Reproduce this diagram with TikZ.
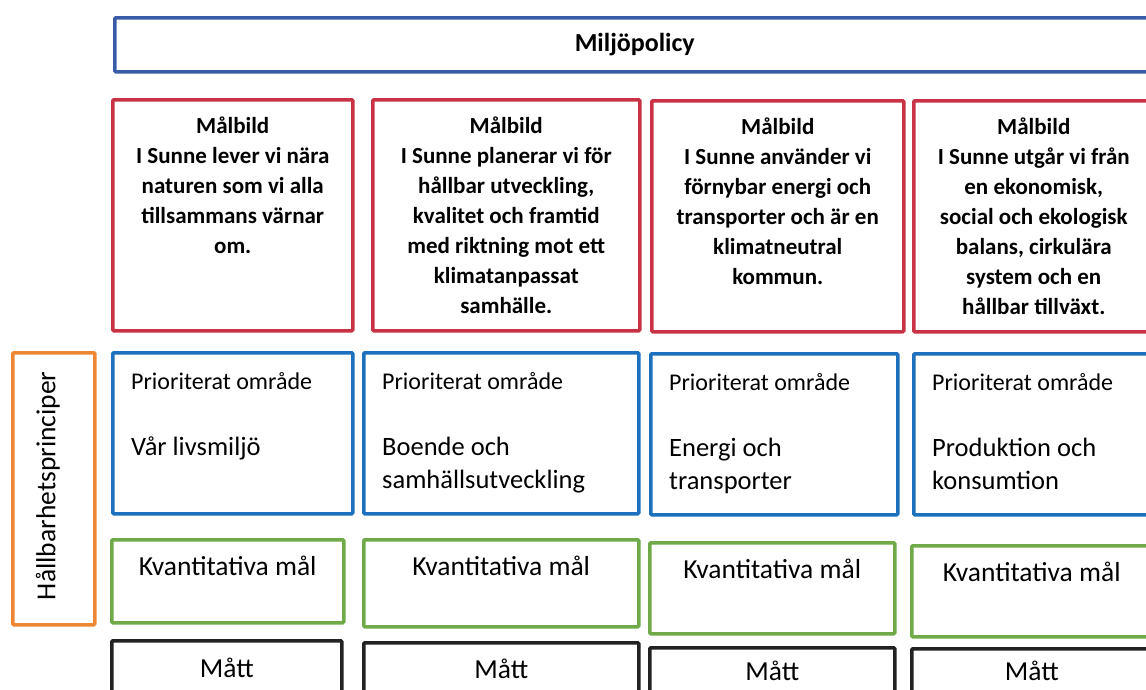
\documentclass[tikz,border=0pt]{standalone}
\usepackage{fontspec}
\setmainfont{Carlito}
\usetikzlibrary{positioning}
\definecolor{policyblue}{RGB}{58,92,168}
\definecolor{malred}{RGB}{200,50,68}
\definecolor{areablue}{RGB}{28,112,190}
\definecolor{goalgreen}{RGB}{112,170,72}
\definecolor{principorange}{RGB}{238,135,52}
\definecolor{measureblack}{RGB}{34,34,34}
\tikzset{
  box/.style={rectangle, draw, line width=3.5pt, rounded corners=1pt, inner sep=0pt, anchor=north west},
  policybox/.style={box, draw=policyblue},
  malbox/.style={box, draw=malred, minimum height=231},
  areabox/.style={box, draw=areablue, minimum height=161},
  goalbox/.style={box, draw=goalgreen},
  measurebox/.style={box, draw=measureblack, minimum height=70},
  principbox/.style={box, draw=principorange},
  maltext/.style={align=center, inner sep=0pt, font=\bfseries\fontsize{23}{30}\selectfont},
  areahead/.style={inner sep=0pt, font=\fontsize{24}{28}\selectfont},
  areaname/.style={align=left, inner sep=0pt, font=\fontsize{26.5}{33}\selectfont},
  plaintext/.style={inner sep=0pt, font=\fontsize{27.5}{30}\selectfont}
}
\begin{document}
\begin{tikzpicture}[x=1pt,y=-1pt]
\useasboundingbox (0,0) rectangle (1146,689);
\clip (0,0) rectangle (1146,689);
\node[policybox, minimum width=1040, minimum height=54] (policy) at (113,16) {};
\node[inner sep=0pt, font=\bfseries\fontsize{26}{30}\selectfont] (policytext) at (policy.center) {Miljöpolicy};
\foreach \i/\x/\y/\w/\txt in {
  1/111/98/240/{I Sunne lever vi nära\\naturen som vi alla\\tillsammans värnar\\om.},
  2/371/98/267/{I Sunne planerar vi för\\hållbar utveckling,\\kvalitet och framtid\\med riktning mot ett\\klimatanpassat\\samhälle.},
  3/650/99/252/{I Sunne använder vi\\förnybar energi och\\transporter och är en\\klimatneutral\\kommun.},
  4/912/99/240/{I Sunne utgår vi från\\en ekonomisk,\\social och ekologisk\\balans, cirkulära\\system och en\\hållbar tillväxt.}}{
  \node[malbox, minimum width=\w] (mb\i) at (\x,\y) {};
  \node[maltext, below=19pt of mb\i.north] (mbt\i) {Målbild\\\txt};
}
\foreach \i/\x/\y/\w/\txt in {
  1/111/351/240/{Vår livsmiljö},
  2/362/351/275/{Boende och\\samhällsutveckling},
  3/649/352/247/{Energi och\\transporter},
  4/912/352/240/{Produktion och\\konsumtion}}{
  \node[areabox, minimum width=\w] (pa\i) at (\x,\y) {};
  \node[areahead, anchor=base west] (pah\i) at ([shift={(20,38)}]pa\i.north west) {Prioriterat område};
  \node[areaname, anchor=north west] (pan\i) at ([shift={(20,86)}]pa\i.north west) {\txt};
}
\foreach \i/\x/\y/\w/\h in {1/110/538/232/83, 2/362/538/275/87, 3/648/541/245/91, 4/910/544/240/91}{
  \node[goalbox, minimum width=\w, minimum height=\h] (km\i) at (\x,\y) {};
  \node[plaintext, anchor=base] (kmt\i) at ([yshift=-37]km\i.north) {Kvantitativa mål};
}
\foreach \i/\x/\y/\w/\b in {1/110/639/230/38, 2/362/641/275/37, 3/648/646/245/34, 4/910/647/240/33}{
  \node[measurebox, minimum width=\w] (ma\i) at (\x,\y) {};
  \node[plaintext, anchor=base] (mat\i) at ([yshift=-\b]ma\i.north) {Mått};
}
\node[principbox, minimum width=82, minimum height=272] (hp) at (11,351) {};
\node[plaintext, rotate=90] (hpt) at ([shift={(-6,-3)}]hp.center) {Hållbarhetsprinciper};
\end{tikzpicture}
\end{document}
